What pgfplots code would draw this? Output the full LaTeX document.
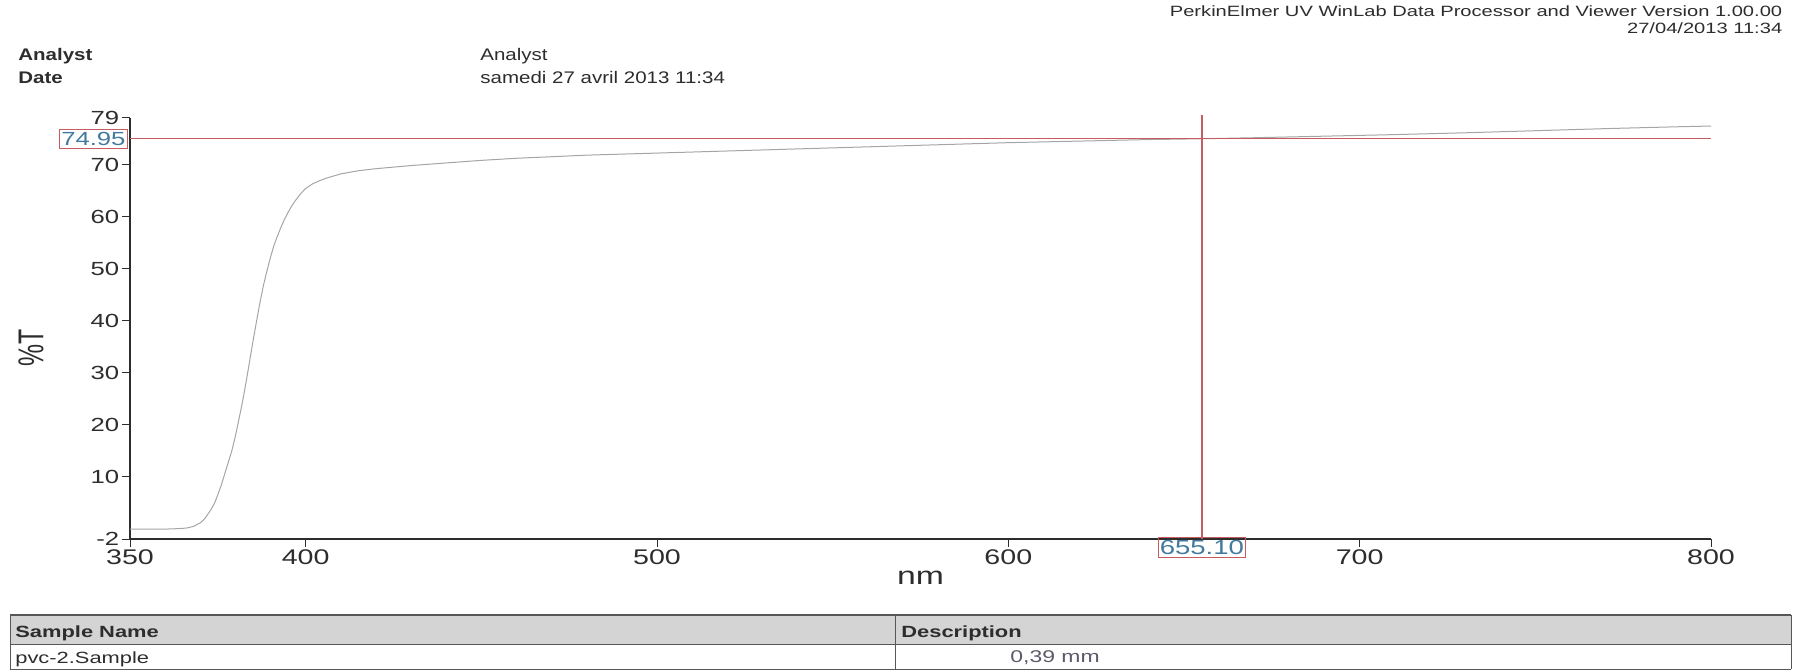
\documentclass[border=0pt]{standalone}
\usepackage{pgfplots}
\pgfplotsset{compat=1.18}
\usepackage{fontspec}
\setmainfont{Liberation Sans}
\newfontfamily\stfont[FakeStretch=1.35]{Liberation Sans}
\newfontfamily\hdfont[FakeStretch=1.22]{Liberation Sans}

\definecolor{cursor}{RGB}{198,92,96}
\definecolor{cursortext}{RGB}{66,122,158}
\definecolor{trace}{RGB}{165,165,165}
\definecolor{ink}{RGB}{45,45,45}
\definecolor{rowgray}{RGB}{212,212,212}
\definecolor{pencil}{RGB}{90,90,105}

% %T spectrum of the pvc-2 sample
\pgfplotstableread{
nm     T
350   -0.1
355   -0.1
360   -0.1
364    0.0
366    0.1
368    0.4
370    1.1
371    1.7
372    2.6
373    3.6
374    4.8
375    6.5
376    8.4
377   10.6
378   12.8
379   15.0
380   17.8
381   21.0
382   24.3
383   28.0
384   32.0
385   36.0
386   39.8
387   43.5
388   46.8
389   49.6
390   52.2
391   54.5
392   56.3
393   58.0
394   59.5
395   60.8
396   62.0
397   63.0
398   63.9
399   64.7
400   65.4
402   66.3
404   66.9
406   67.4
408   67.8
410   68.2
415   68.8
420   69.2
430   69.8
440   70.3
450   70.8
460   71.2
480   71.8
500   72.2
520   72.6
540   73.0
560   73.4
580   73.8
600   74.2
620   74.5
640   74.8
655.1 74.95
670   75.15
690   75.45
710   75.75
730   76.1
750   76.5
770   76.9
790   77.25
800   77.4
}\spectrum

\begin{document}
\begin{tikzpicture}
\useasboundingbox (0,0) rectangle (900pt,335pt);

% report header
\node[anchor=base west, inner sep=0pt, text=ink] at (9pt,304.5pt) {\hdfont\bfseries\fontsize{8.4}{10}\selectfont Analyst};
\node[anchor=base west, inner sep=0pt, text=ink] at (9pt,293.3pt) {\hdfont\bfseries\fontsize{8.4}{10}\selectfont Date};
\node[anchor=base west, inner sep=0pt, text=ink] at (240pt,304.5pt) {\hdfont\fontsize{8.4}{10}\selectfont Analyst};
\node[anchor=base west, inner sep=0pt, text=ink] at (240pt,293.3pt) {\hdfont\fontsize{8.4}{10}\selectfont samedi 27 avril 2013 11:34};
\node[anchor=base east, inner sep=0pt, text=ink] at (891.3pt,326.6pt) {\stfont\fontsize{7.45}{9}\selectfont PerkinElmer UV WinLab Data Processor and Viewer Version 1.00.00};
\node[anchor=base east, inner sep=0pt, text=ink] at (891.3pt,318pt) {\stfont\fontsize{7.45}{9}\selectfont 27/04/2013 11:34};

% y axis title
\node[inner sep=0pt, text=ink] at (15.5pt,161pt) {\rotatebox{90}{\scalebox{1}[1.45]{\fontsize{12.4}{14}\selectfont\%T}}};

\begin{axis}[
  at={(65pt,65.5pt)}, anchor=south west,
  scale only axis, width=790.5pt, height=210.65pt,
  xmin=350, xmax=800, ymin=-2, ymax=79,
  axis x line=bottom, axis y line=left,
  axis line style={-, draw=ink, line width=0.6pt},
  tick style={draw=ink, line width=0.5pt},
  tick align=outside, major tick length=4pt,
  xtick={350,400,500,600,700,800},
  xticklabels={350,400,500,600,700,800},
  ytick={-2,10,20,30,40,50,60,70,79},
  yticklabels={-2,10,20,30,40,50,60,70,79},
  xticklabel style={font=\stfont\fontsize{10.6}{12}\selectfont, text=ink, inner sep=0pt, yshift=-1pt},
  yticklabel style={font=\stfont\fontsize{9.5}{11}\selectfont, text=ink, inner sep=0pt, xshift=-1.2pt},
  xlabel={nm},
  xlabel style={font=\stfont\fontsize{12.5}{14}\selectfont, text=ink, inner sep=0pt, anchor=base, at={(axis description cs:0.5,0)}, yshift=-22.5pt},
  clip=false,
]
\addplot[trace, line width=0.5pt, no markers] table[x=nm, y=T] {\spectrum};

% cursor read-out at 655.10 nm / 74.95 %T
\draw[cursor, line width=0.6pt] (axis cs:350,74.95) -- (axis cs:800,74.95);
\draw[cursor, line width=0.6pt] (axis cs:655.1,79.5) -- (axis cs:655.1,-2);
\node[draw=cursor, line width=0.5pt, text=cursortext, anchor=east, inner xsep=1pt, inner ysep=1.3pt, xshift=-1pt]
  at (axis cs:350,74.95) {\stfont\fontsize{9.5}{11}\selectfont 74.95};
\node[draw=cursor, line width=0.5pt, text=cursortext, anchor=north, inner xsep=0.6pt, inner ysep=1.4pt, yshift=1pt]
  at (axis cs:655.1,-2) {\stfont\fontsize{10.2}{12}\selectfont 655.10};
\end{axis}

% sample table
\fill[rowgray] (5pt,13pt) rectangle (895.5pt,27.5pt);
\draw[ink!80, line width=1pt] (5pt,27.5pt) -- (895.5pt,27.5pt);
\draw[ink!80, line width=0.5pt] (5pt,13pt) -- (895.5pt,13pt);
\draw[ink!80, line width=0.5pt] (5pt,0.4pt) -- (895.5pt,0.4pt);
\draw[ink!80, line width=0.5pt] (5pt,0.4pt) -- (5pt,27.5pt);
\draw[ink!80, line width=0.5pt] (895.5pt,0.4pt) -- (895.5pt,27.5pt);
\draw[ink!80, line width=0.5pt] (447.5pt,0.4pt) -- (447.5pt,27.5pt);
\node[anchor=base west, inner sep=0pt, text=ink] at (7.5pt,16.2pt) {\stfont\bfseries\fontsize{8.1}{10}\selectfont Sample Name};
\node[anchor=base west, inner sep=0pt, text=ink] at (7.5pt,3.4pt) {\stfont\fontsize{8.1}{10}\selectfont pvc-2.Sample};
\node[anchor=base west, inner sep=0pt, text=ink] at (450.5pt,16.2pt) {\stfont\bfseries\fontsize{8.1}{10}\selectfont Description};
\node[anchor=base west, inner sep=0pt, text=pencil] at (505pt,3.6pt) {\stfont\fontsize{8.5}{10}\selectfont 0,39 mm};
\end{tikzpicture}
\end{document}
